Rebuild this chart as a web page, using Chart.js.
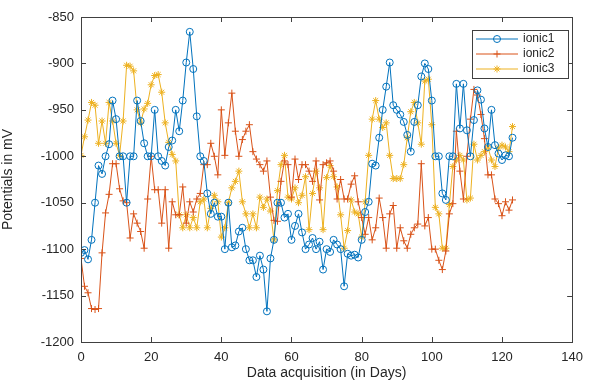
<!DOCTYPE html>
<html>
<head>
<meta charset="utf-8">
<script src="https://cdn.jsdelivr.net/npm/chart.js@4"></script>
<style>
  html, body { margin: 0; padding: 0; background: #fff; }
  #wrap { width: 591px; height: 382px; }
</style>
</head>
<body>
<div id="wrap"><canvas id="chart"></canvas></div>
<script>
// day index of every sample
const days = [
  0, 1, 2, 3, 4, 5, 6, 7, 8, 9, 10, 11, 12, 13, 14, 15, 16, 17, 18, 19,
  20, 21, 22, 23, 24, 25, 26, 27, 28, 29, 30, 31, 32, 33, 34, 35, 36, 37, 38, 39,
  40, 41, 42, 43, 44, 45, 46, 47, 48, 49, 50, 51, 52, 53, 54, 55, 56, 57, 58, 59,
  60, 61, 62, 63, 64, 65, 66, 67, 68, 69, 70, 71, 72, 73, 74, 75, 76, 77, 78, 79,
  80, 81, 82, 83, 84, 85, 86, 87, 88, 89, 90, 91, 92, 93, 94, 95, 96, 97, 98, 99,
  100, 101, 102, 103, 104, 105, 106, 107, 108, 109, 110, 111, 112, 113, 114, 115, 116, 117, 118, 119,
  120, 121, 122, 123
];

const ionic1 = [
  -1104, -1101, -1111, -1090, -1050, -1010, -1019, -1000, -987, -940,
  -960, -1000, -1000, -1050, -1000, -1000, -940, -962, -986, -1000,
  -1000, -950, -1000, -1005, -1010, -990, -983, -950, -973, -940,
  -899, -866, -906, -957, -1000, -1005, -1040, -1062, -1050, -1065,
  -1065, -1100, -1050, -1098, -1096, -1081, -1077, -1100, -1112, -1112,
  -1130, -1107, -1122, -1167, -1110, -1090, -1050, -1050, -1066, -1062,
  -1090, -1075, -1062, -1082, -1100, -1095, -1088, -1100, -1092, -1122,
  -1100, -1103, -1090, -1095, -1100, -1140, -1105, -1107, -1106, -1109,
  -1090, -1060, -1049, -1008, -1010, -980, -950, -925, -899, -945,
  -950, -955, -963, -977, -995, -963, -945, -914, -900, -906,
  -940, -1000, -1000, -1040, -1047, -1000, -1000, -922, -970, -922,
  -972, -1000, -961, -929, -939, -970, -990, -950, -988, -997,
  -1004, -999, -1000, -980
];

const ionic2 = [
  -1110, -1140, -1147, -1164, -1165, -1164, -1104, -1061, -1041, -1008,
  -1008, -1035, -1048, -1050, -1088, -1062, -1072, -1081, -1099, -1046,
  -1000, -1036, -1036, -1072, -1036, -1099, -1049, -1063, -1063, -1033,
  -1072, -1049, -1060, -1046, -1040, -1009, -1009, -986, -1000, -1020,
  -950, -999, -964, -932, -973, -1000, -982, -973, -966, -995,
  -1003, -1009, -1016, -1005, -1044, -1069, -1070, -1027, -1005, -1009,
  -1044, -1003, -1025, -1009, -1009, -1016, -1027, -1005, -1047, -1009,
  -1007, -1005, -1016, -1046, -1025, -1046, -1046, -1030, -1021, -1049,
  -1066, -1084, -1066, -1090, -1077, -1045, -1066, -1099, -1062, -1053,
  -1099, -1077, -1091, -1099, -1084, -1077, -1073, -1008, -1075, -1066,
  -1100, -1100, -1112, -1122, -1102, -1062, -1051, -973, -1016, -1046,
  -1000, -960, -928, -934, -955, -981, -1020, -1020, -1046, -1051,
  -1064, -1049, -1058, -1047
];

const ionic3 = [
  -999, -979, -961, -942, -945, -986, -962, -986, -942, -962,
  -986, -999, -962, -902, -903, -908, -950, -964, -949, -943,
  -923, -913, -912, -931, -964, -985, -998, -1005, -1063, -1077,
  -1063, -1077, -1066, -1077, -1049, -1046, -1077, -1056, -1042, -1049,
  -1087, -1077, -1050, -1034, -1027, -1016, -1049, -1062, -1077, -1062,
  -1077, -1044, -1055, -1046, -1059, -1090, -1037, -1009, -999, -1044,
  -1046, -1034, -1050, -1042, -1022, -1079, -1040, -1016, -1034, -1079,
  -1023, -1010, -1022, -1033, -1063, -1099, -1080, -1047, -1060, -1062,
  -1087, -1049, -999, -960, -940, -960, -969, -964, -999, -1024,
  -1024, -1024, -1009, -980, -952, -942, -964, -987, -919, -917,
  -966, -1055, -1062, -1099, -1099, -1052, -1011, -1004, -999, -1004,
  -1047, -1045, -987, -1004, -999, -995, -990, -1004, -1011, -991,
  -988, -990, -995, -968
];

const xTicks = [0, 20, 40, 60, 80, 100, 120, 140];
const yTicks = [-1200, -1150, -1100, -1050, -1000, -950, -900, -850];

const COLORS = ['#0072BD', '#D95319', '#EDB120'];
const STYLES = ['circle', 'cross', 'star'];
const NAMES = ['ionic1', 'ionic2', 'ionic3'];
const AXIS_COLOR = '#404040';
const TEXT_COLOR = '#262626';
const FONT = '"Liberation Sans", Arial, sans-serif';

const series = [ionic1, ionic2, ionic3];

function drawMarker(ctx, style, x, y, r, color) {
  ctx.save();
  ctx.strokeStyle = color;
  ctx.lineWidth = 1;
  ctx.beginPath();
  if (style === 'circle') {
    ctx.arc(x, y, r, 0, Math.PI * 2);
  } else {
    ctx.moveTo(x - r, y); ctx.lineTo(x + r, y);
    ctx.moveTo(x, y - r); ctx.lineTo(x, y + r);
    if (style === 'star') {
      const d = r * 0.7;
      ctx.moveTo(x - d, y - d); ctx.lineTo(x + d, y + d);
      ctx.moveTo(x - d, y + d); ctx.lineTo(x + d, y - d);
    }
  }
  ctx.stroke();
  ctx.restore();
}

// box, inward ticks and legend like the matlab figure
const frame = {
  id: 'frame',
  afterDraw(chart) {
    const { ctx, chartArea: a, scales } = chart;
    ctx.save();
    ctx.strokeStyle = AXIS_COLOR;
    ctx.lineWidth = 1;
    ctx.strokeRect(Math.round(a.left) + 0.5, Math.round(a.top) + 0.5,
      Math.round(a.right - a.left), Math.round(a.bottom - a.top));
    ctx.beginPath();
    xTicks.forEach(t => {
      const px = Math.round(scales.x.getPixelForValue(t)) + 0.5;
      ctx.moveTo(px, a.bottom); ctx.lineTo(px, a.bottom - 5);
      ctx.moveTo(px, a.top); ctx.lineTo(px, a.top + 5);
    });
    yTicks.forEach(t => {
      const py = Math.round(scales.y.getPixelForValue(t)) + 0.5;
      ctx.moveTo(a.left, py); ctx.lineTo(a.left + 5, py);
      ctx.moveTo(a.right, py); ctx.lineTo(a.right - 5, py);
    });
    ctx.stroke();

    // legend
    const lx = 472, ly = 30, lw = 96, lh = 48;
    ctx.fillStyle = '#fff';
    ctx.fillRect(lx, ly, lw, lh);
    ctx.strokeStyle = AXIS_COLOR;
    ctx.strokeRect(lx + 0.5, ly + 0.5, lw, lh);
    ctx.font = '12px ' + FONT;
    ctx.textBaseline = 'middle';
    NAMES.forEach((n, i) => {
      const y = ly + 9 + i * 15;
      ctx.strokeStyle = COLORS[i];
      ctx.beginPath();
      ctx.moveTo(lx + 4, y); ctx.lineTo(lx + 46, y);
      ctx.stroke();
      drawMarker(ctx, STYLES[i], lx + 25, y, 3.5, COLORS[i]);
      ctx.fillStyle = TEXT_COLOR;
      ctx.fillText(n, lx + 51, y);
    });
    ctx.restore();
  }
};

new Chart(document.getElementById('chart'), {
  type: 'line',
  data: {
    datasets: series.map((vals, i) => ({
      label: NAMES[i],
      data: days.map((d, j) => ({ x: d, y: vals[j] })),
      borderColor: COLORS[i],
      backgroundColor: 'transparent',
      borderWidth: 1,
      pointStyle: STYLES[i],
      pointRadius: 3.5,
      pointBorderWidth: 1,
      pointBorderColor: COLORS[i],
      pointBackgroundColor: 'transparent',
      tension: 0
    }))
  },
  options: {
    responsive: true,
    maintainAspectRatio: false,
    animation: false,
    events: [],
    layout: { padding: { left: 0, top: 17, right: 18, bottom: 0 } },
    plugins: { legend: { display: false }, tooltip: { enabled: false } },
    scales: {
      x: {
        type: 'linear',
        min: 0, max: 140,
        afterBuildTicks: s => { s.ticks = xTicks.map(v => ({ value: v })); },
        afterFit: s => { s.height = 40; },
        grid: { display: false, drawTicks: false },
        border: { display: false },
        ticks: {
          color: TEXT_COLOR, font: { family: FONT, size: 13 }, padding: 8, maxRotation: 0,
          callback: v => String(v)
        },
        title: {
          display: true, text: 'Data acquisition (in Days)', color: TEXT_COLOR,
          font: { family: FONT, size: 14 }, padding: { top: 0, bottom: 0 }
        }
      },
      y: {
        min: -1200, max: -850,
        afterBuildTicks: s => { s.ticks = yTicks.map(v => ({ value: v })); },
        afterFit: s => { s.width = 81; },
        grid: { display: false, drawTicks: false },
        border: { display: false },
        ticks: {
          color: TEXT_COLOR, font: { family: FONT, size: 13 }, padding: 7,
          callback: v => String(v)
        },
        title: {
          display: true, text: 'Potentials in mV', color: TEXT_COLOR,
          font: { family: FONT, size: 14 }, padding: { top: 0, bottom: 0 }
        }
      }
    }
  },
  plugins: [frame]
});
</script>
</body>
</html>
